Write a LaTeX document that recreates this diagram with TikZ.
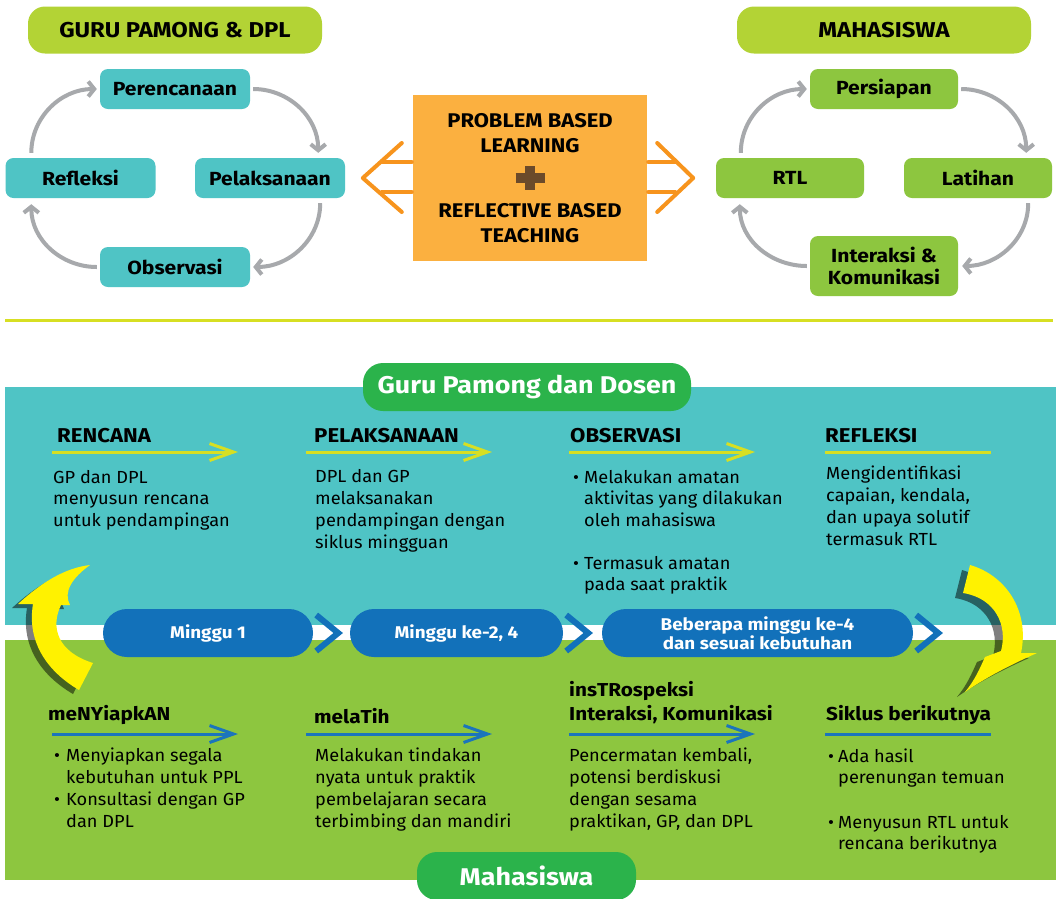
\documentclass[tikz,border=0pt]{standalone}
\usepackage{fontspec}
\setmainfont{Fira Sans}[FakeStretch=1.04,BoldFeatures={FakeStretch=1.11}]
\usetikzlibrary{arrows.meta,positioning}

\definecolor{limehead}{HTML}{B3D335}
\definecolor{tealbox}{HTML}{4FC4C5}
\definecolor{greenbox}{HTML}{8DC63F}
\definecolor{cycgrey}{HTML}{A7A9AC}
\definecolor{orbox}{HTML}{FBB040}
\definecolor{orline}{HTML}{F7941D}
\definecolor{plusbrown}{HTML}{6B4A2A}
\definecolor{sepline}{HTML}{D7DF23}
\definecolor{tabgreen}{HTML}{2BB34B}
\definecolor{weekblue}{HTML}{1271BA}
\definecolor{lineblue}{HTML}{1B75BC}
\definecolor{swoosh}{HTML}{FFF200}

% curved yellow arrows
\newcommand\swooshL{(79,690) .. controls (45,670) and (27,640) .. (33,604) -- (18,604)
  .. controls (42,582) and (65,568) .. (90,565) .. controls (72,578) and (63,592) .. (70,605)
  -- (61,605) .. controls (50,628) and (58,652) .. (93,663) -- cycle}
\newcommand\swooshR{(970,565) .. controls (1005,575) and (1030,610) .. (1021,653) -- (1037,653)
  .. controls (1010,665) and (985,678) .. (965,692) .. controls (975,680) and (980,668) .. (985,657)
  -- (1001,651) .. controls (1008,625) and (995,598) .. (963,593) -- cycle}

\begin{document}
\begin{tikzpicture}[x=1pt,y=-1pt]
  \tikzset{
    title/.style={fill=limehead,rounded corners=17pt,minimum width=294pt,minimum height=47pt,
      inner sep=0pt,font=\bfseries\fontsize{21.5}{24}\selectfont},
    gpbox/.style={fill=tealbox,rounded corners=8pt,minimum width=150pt,minimum height=40pt,
      inner sep=0pt,align=center,font=\bfseries\fontsize{19}{22}\selectfont},
    mhbox/.style={gpbox,fill=greenbox,minimum width=148pt},
    cyc/.style={draw=cycgrey,line width=4pt,-{Straight Barb[length=6pt,width=15pt]}},
    pblbox/.style={fill=orbox,minimum width=234pt,minimum height=166pt,inner sep=0pt,
      align=center,font=\bfseries\fontsize{19.8}{24.5}\selectfont},
    oline/.style={draw=orline,line width=4pt,line cap=round,line join=round},
    tab/.style={fill=tabgreen,text=white,rounded corners=20pt,minimum height=48pt,inner sep=0pt,
      font=\bfseries\fontsize{24.2}{28}\selectfont},
    week/.style={fill=weekblue,text=white,rounded corners=24pt,minimum height=48pt,inner sep=0pt,
      align=center,font=\bfseries\fontsize{17}{19}\selectfont},
    wchev/.style={draw=weekblue,line width=6pt,line join=miter},
    colhead/.style={anchor=base west,inner sep=0pt,align=left,font=\bfseries\fontsize{20}{24}\selectfont},
    mixhead/.style={colhead,font=\bfseries\fontsize{18.7}{24}\selectfont},
    body/.style={anchor=base west,inner sep=0pt,align=left,font=\fontsize{17.5}{21.7}\selectfont},
    ylarrow/.style={draw=sepline,line width=3pt,-{Straight Barb[length=24pt,width=17pt]}},
    blarrow/.style={ylarrow,draw=lineblue},
  }
  \clip (0,0) rectangle (1056,898);
  \fill[white] (0,0) rectangle (1056,898);

  % top: two cycles around the orange box
  \node[title] (gptitle) at (175,30) {GURU PAMONG \& DPL};
  \node[title] (mhtitle) at (884,30) {MAHASISWA};

  \node[gpbox] (per) at (175,89) {Perencanaan};
  \node[gpbox] (ref) at (80.5,178) {Refleksi};
  \node[gpbox] (pel) at (270,178) {Pelaksanaan};
  \node[gpbox] (obs) at (175,267) {Observasi};
  \draw[cyc] ([shift={(3,0)}]per.east) to[out=0,in=90] ([shift={(-27,-5)}]pel.north east);
  \draw[cyc] ([shift={(-25,5)}]pel.south east) to[out=-90,in=0] ([shift={(3,0)}]obs.east);
  \draw[cyc] ([shift={(-3,0)}]obs.west) to[out=180,in=-90] ([shift={(26,6)}]ref.south west);
  \draw[cyc] ([shift={(26,-5)}]ref.north west) to[out=90,in=180] ([shift={(-3,0)}]per.west);

  \node[mhbox] (prs) at (884,89) {Persiapan};
  \node[mhbox] (rtl) at (790,178) {RTL};
  \node[mhbox] (lat) at (978,178) {Latihan};
  \node[mhbox,minimum height=60pt] (ikm) at (884,266) {Interaksi \&\\Komunikasi};
  \draw[cyc] ([shift={(3,0)}]prs.east) to[out=0,in=90] ([shift={(-26,-5)}]lat.north east);
  \draw[cyc] ([shift={(-24,5)}]lat.south east) to[out=-90,in=0] ([shift={(4,0)}]ikm.east);
  \draw[cyc] ([shift={(-3,0)}]ikm.west) to[out=180,in=-90] ([shift={(24,6)}]rtl.south west);
  \draw[cyc] ([shift={(25,-5)}]rtl.north west) to[out=90,in=180] ([shift={(-3,0)}]prs.west);

  \node[pblbox] (pbl) at (530,178) {PROBLEM BASED\\LEARNING\\[41pt]REFLECTIVE BASED\\TEACHING};
  \draw[plusbrown,line width=10pt] ([shift={(-14.5,0)}]pbl.center) -- ([shift={(14.5,0)}]pbl.center);
  \draw[plusbrown,line width=10pt] ([shift={(0,-12)}]pbl.center) -- ([shift={(0,12)}]pbl.center);

  \coordinate (lapex) at ([shift={(-50,0)}]pbl.west);
  \coordinate (rapex) at ([shift={(46,0)}]pbl.east);
  \draw[oline] ([shift={(-1,-16)}]pbl.west) -- ([shift={(-31,-16)}]pbl.west);
  \draw[oline] ([shift={(-1,14)}]pbl.west) -- ([shift={(-31,14)}]pbl.west);
  \draw[oline] ([shift={(-11,-35)}]pbl.west) -- (lapex) -- ([shift={(-11,34)}]pbl.west);
  \draw[oline] ([shift={(1,-16)}]pbl.east) -- ([shift={(28,-16)}]pbl.east);
  \draw[oline] ([shift={(1,14)}]pbl.east) -- ([shift={(28,14)}]pbl.east);
  \draw[oline] ([shift={(10,-35)}]pbl.east) -- (rapex) -- ([shift={(10,34)}]pbl.east);

  \draw[sepline,line width=3pt] (5,320) -- (1053,320);

  % bottom: weekly cycle
  \fill[tealbox] (5,387) rectangle (1056,625);
  \fill[greenbox] (5,640) rectangle (1056,880);
  \node[tab,minimum width=328pt] (gpd) at (527,387) {Guru Pamong dan Dosen};
  \node[tab,minimum width=219pt] (mhs) at (526.5,876) {Mahasiswa};

  \node[colhead] (h1) at (57,442) {RENCANA};
  \node[colhead] (h2) at (314,442) {PELAKSANAAN};
  \node[colhead] (h3) at (570,442) {OBSERVASI};
  \node[colhead] (h4) at (825,442) {REFLEKSI};
  \foreach \x in {52,306,569}
    \draw[ylarrow] (\x,452) -- ++(186,0);
  \draw[sepline,line width=3pt] (825,452) -- (991,452);

  \node[body] (b1) at (53,526.4) {GP dan DPL\\menyusun rencana\\untuk pendampingan};
  \node[body] (b2) at (315,548) {DPL dan GP\\melaksanakan\\pendampingan dengan\\siklus mingguan};
  \node[body] (b3) at (573,526.4) {\makebox[11pt][l]{\textbullet}Melakukan amatan\\\hspace*{11pt}aktivitas yang dilakukan\\\hspace*{11pt}oleh mahasiswa};
  \node[body] (b3b) at (573,590.7) {\makebox[11pt][l]{\textbullet}Termasuk amatan\\\hspace*{11pt}pada saat praktik};
  \node[body] (b4) at (826,545) {Mengidentifikasi\\capaian, kendala,\\dan upaya solutif\\termasuk RTL};

  \node[week,minimum width=210pt] (w1) at (208,633) {Minggu 1};
  \node[week,minimum width=213pt] (w2) at (456.5,633) {Minggu ke-2, 4};
  \node[week,minimum width=311pt] (w3) at (757.5,633) {Beberapa minggu ke-4\\dan sesuai kebutuhan};
  \foreach \w in {w1,w2,w3}
    \draw[wchev] ([shift={(3,-18)}]\w.east) -- ([shift={(25,0)}]\w.east) -- ([shift={(3,18)}]\w.east);

  \fill[black,opacity=.5,shift={(-6,4)}] \swooshL;
  \fill[swoosh] \swooshL;
  \fill[black,opacity=.5,shift={(-8,5)}] \swooshR;
  \fill[swoosh] \swooshR;

  \node[mixhead] (m1) at (48,720) {meNYiapkAN};
  \node[mixhead] (m2) at (314,723) {melaTih};
  \node[mixhead] (m3) at (569,720) {insTRospeksi\\Interaksi, Komunikasi};
  \node[mixhead] (m4) at (826,720) {Siklus berikutnya};
  \foreach \x in {52,306,569}
    \draw[blarrow] (\x,734) -- ++(186,0);
  \draw[lineblue,line width=3pt] (825,734) -- (991,734);

  \node[body] (c1) at (54,827) {\makebox[12pt][l]{\textbullet}Menyiapkan segala\\\hspace*{12pt}kebutuhan untuk PPL\\\makebox[12pt][l]{\textbullet}Konsultasi dengan GP\\\hspace*{12pt}dan DPL};
  \node[body] (c2) at (315,827) {Melakukan tindakan\\nyata untuk praktik\\pembelajaran secara\\terbimbing dan mandiri};
  \node[body] (c3) at (569,827) {Pencermatan kembali,\\potensi berdiskusi\\dengan sesama\\praktikan, GP, dan DPL};
  \node[body] (c4) at (828,783.7) {\makebox[10pt][l]{\textbullet}Ada hasil\\\hspace*{10pt}perenungan temuan};
  \node[body] (c4b) at (828,849.7) {\makebox[10pt][l]{\textbullet}Menyusun RTL untuk\\\hspace*{10pt}rencana berikutnya};
\end{tikzpicture}
\end{document}
